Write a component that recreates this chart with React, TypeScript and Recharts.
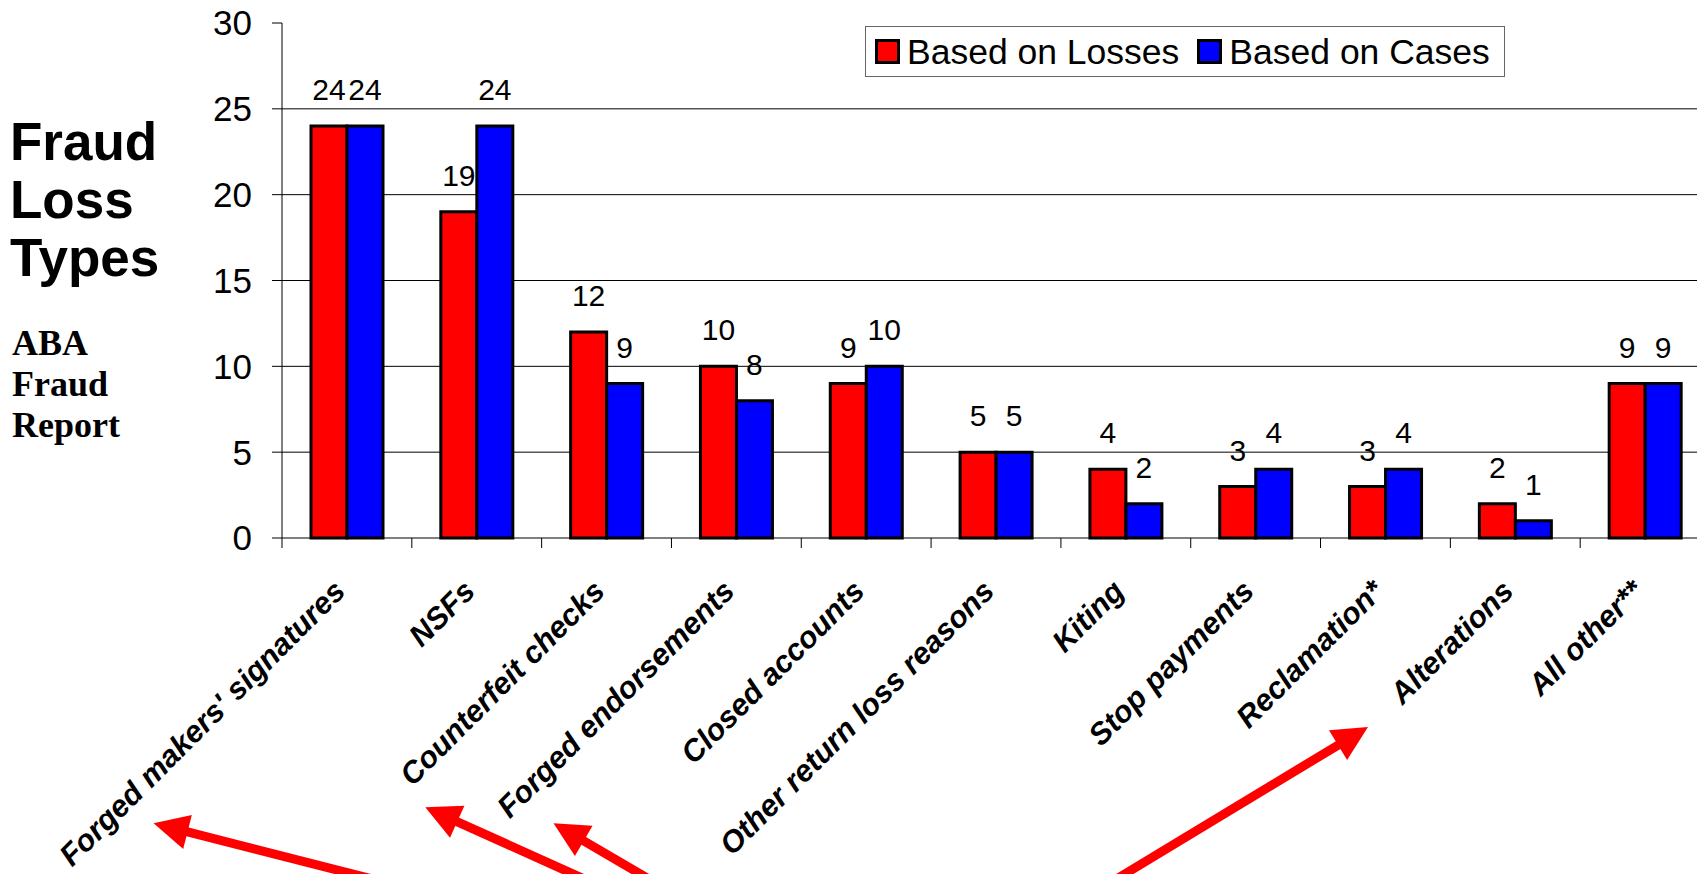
import React from 'react';
import { BarChart, Bar, XAxis, YAxis, CartesianGrid, Legend, LabelList } from 'recharts';

const CATEGORIES = [
  "Forged makers' signatures",
  'NSFs',
  'Counterfeit checks',
  'Forged endorsements',
  'Closed accounts',
  'Other return loss reasons',
  'Kiting',
  'Stop payments',
  'Reclamation*',
  'Alterations',
  'All other**',
];
const LOSSES = [24, 19, 12, 10, 9, 5, 4, 3, 3, 2, 9];
const CASES = [24, 24, 9, 8, 10, 5, 2, 4, 4, 1, 9];
const Y_TICKS = [0, 5, 10, 15, 20, 25, 30];
const GRID_VALUES = [5, 10, 15, 20, 25];
const SERIES_NAMES = ['Based on Losses', 'Based on Cases'];
const SERIES_KEYS = ['losses', 'cases'];
const SERIES_COLORS = ['#FF0000', '#0000FF'];
const TITLE_LINES = ['Fraud', 'Loss', 'Types'];
const SUBTITLE_LINES = ['ABA', 'Fraud', 'Report'];

// annotation arrows (tail -> tip)
const ARROWS = [
  { from: [392, 884], to: [153.6, 823.3] },
  { from: [602, 887], to: [425.3, 807.3] },
  { from: [666, 889], to: [553.5, 823.3] },
  { from: [1100, 889], to: [1368, 727] },
];

const data = CATEGORIES.map((name, i) => ({ name, losses: LOSSES[i], cases: CASES[i] }));

const FONT = '"Liberation Sans", Arial, Helvetica, sans-serif';
const SERIF = '"Liberation Serif", "Times New Roman", Times, serif';

const CHART_W = 1720;
const CHART_H = 874;
const MARGIN = { top: 23, right: 10, bottom: 0, left: 0 };
const Y_AXIS_W = 282;
const PLOT_W = CHART_W - MARGIN.left - MARGIN.right - Y_AXIS_W;

const XTick = (props: any) => {
  const { x, y, payload, width } = props;
  const w = typeof width === 'number' && width > 0 ? width : PLOT_W;
  const band = w / CATEGORIES.length;
  const ty = y + 55;
  return (
    <g>
      <line x1={x - band / 2} x2={x - band / 2} y1={y} y2={y + 10} stroke="#000" strokeWidth={1} />
      <text
        x={x}
        y={ty}
        transform={`rotate(-45, ${x}, ${ty})`}
        textAnchor="end"
        fontSize={30.5}
        fontWeight="bold"
        fontStyle="italic"
        fontFamily={FONT}
        fill="#000"
      >
        {payload.value}
      </text>
    </g>
  );
};

const renderLegend = (props: any) => {
  const payload: any[] = props && props.payload ? props.payload : [];
  const items = SERIES_NAMES.map((n, i) => {
    const p = payload.find((e: any) => e && e.value === n);
    return { value: n, color: p && p.color ? p.color : SERIES_COLORS[i] };
  });
  return (
    <div
      style={{
        width: 640,
        height: 51,
        boxSizing: 'border-box',
        border: '1.5px solid #666',
        background: '#fff',
        display: 'flex',
        alignItems: 'center',
        paddingLeft: 9,
      }}
    >
      {items.map((it, i) => (
        <div key={i} style={{ display: 'flex', alignItems: 'center', marginLeft: i === 0 ? 0 : 18 }}>
          <span
            style={{
              display: 'inline-block',
              width: 25,
              height: 25,
              boxSizing: 'border-box',
              border: '3px solid #000',
              background: it.color,
              marginRight: 7,
            }}
          />
          <span style={{ fontFamily: FONT, fontSize: 35.5, lineHeight: '40px', color: '#000', whiteSpace: 'nowrap' }}>
            {it.value}
          </span>
        </div>
      ))}
    </div>
  );
};

const Arrow = ({ from, to }: { from: number[]; to: number[] }) => {
  const dx = to[0] - from[0];
  const dy = to[1] - from[1];
  const len = Math.sqrt(dx * dx + dy * dy);
  const ux = dx / len;
  const uy = dy / len;
  const headL = 35;
  const headW = 35;
  const bx = to[0] - ux * headL;
  const by = to[1] - uy * headL;
  const px = -uy;
  const py = ux;
  const pts = `${to[0]},${to[1]} ${bx + (px * headW) / 2},${by + (py * headW) / 2} ${bx - (px * headW) / 2},${by - (py * headW) / 2}`;
  return (
    <g>
      <line x1={from[0]} y1={from[1]} x2={bx + ux * 4} y2={by + uy * 4} stroke="#FF0000" strokeWidth={9} />
      <polygon points={pts} fill="#FF0000" />
    </g>
  );
};

export default function App() {
  return (
    <div
      style={{
        position: 'fixed',
        left: 0,
        top: 0,
        width: 1697,
        height: 874,
        overflow: 'hidden',
        background: '#fff',
      }}
    >
      <div style={{ position: 'absolute', left: 0, top: 0 }}>
        <BarChart width={CHART_W} height={CHART_H} data={data} margin={MARGIN} barGap={0} barSize={36}>
          <CartesianGrid horizontal={true} vertical={false} stroke="#000" strokeWidth={1} horizontalValues={GRID_VALUES} />
          <XAxis
            dataKey="name"
            type="category"
            height={336}
            interval={0}
            tickLine={false}
            tickSize={0}
            tickMargin={0}
            axisLine={{ stroke: '#000', strokeWidth: 1 }}
            tick={<XTick />}
          />
          <YAxis
            type="number"
            width={Y_AXIS_W}
            domain={[0, 30]}
            ticks={Y_TICKS}
            interval={0}
            tickSize={10}
            tickMargin={20}
            axisLine={{ stroke: '#000', strokeWidth: 1 }}
            tickLine={{ stroke: '#000', strokeWidth: 1 }}
            tick={{ fontSize: 35, fill: '#000', fontFamily: FONT }}
          />
          <Legend
            layout="horizontal"
            verticalAlign="middle"
            align="center"
            wrapperStyle={{ top: 26, left: 865, width: 640, height: 51 }}
            content={renderLegend}
          />
          {SERIES_KEYS.map((k, i) => (
            <Bar
              key={k}
              dataKey={k}
              name={SERIES_NAMES[i]}
              fill={SERIES_COLORS[i]}
              stroke="#000"
              strokeWidth={3}
              isAnimationActive={false}
            >
              <LabelList dataKey={k} position="top" offset={26} fontSize={30} fill="#000" fontFamily={FONT} />
            </Bar>
          ))}
        </BarChart>
      </div>
      <svg
        width={1697}
        height={874}
        style={{ position: 'absolute', left: 0, top: 0, pointerEvents: 'none' }}
      >
        {TITLE_LINES.map((t, i) => (
          <text key={'t' + i} x={10} y={160 + i * 58} fontFamily={FONT} fontWeight="bold" fontSize={53} fill="#000">
            {t}
          </text>
        ))}
        {SUBTITLE_LINES.map((t, i) => (
          <text key={'s' + i} x={12} y={355 + i * 40.8} fontFamily={SERIF} fontWeight="bold" fontSize={36} fill="#000">
            {t}
          </text>
        ))}
        {ARROWS.map((a, i) => (
          <Arrow key={i} from={a.from} to={a.to} />
        ))}
      </svg>
    </div>
  );
}
